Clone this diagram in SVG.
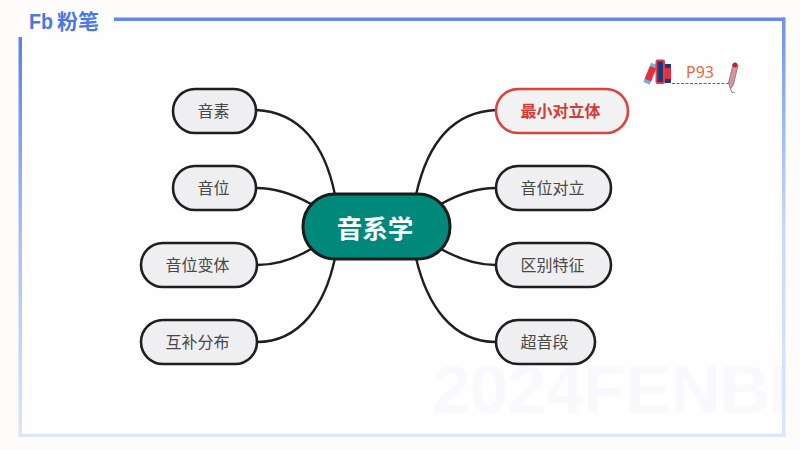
<svg xmlns="http://www.w3.org/2000/svg" width="800" height="450" viewBox="0 0 800 450">
<style>
text{font-family:"Noto Sans CJK SC","Liberation Sans",sans-serif;text-anchor:middle}
.n{fill:#efeff1;stroke:#1f1f1f;stroke-width:2.6}
.t{font-size:16px;fill:#484848;dominant-baseline:central}
.c{fill:none;stroke:#1f1f1f;stroke-width:2.4}
</style>
<defs>
<linearGradient id="l" x1="0" y1="0" x2="0" y2="1"><stop offset="0" stop-color="#5b80ea"/><stop offset="0.5" stop-color="#a9bff4"/><stop offset="1" stop-color="#dbe6fc"/></linearGradient>
<linearGradient id="r" x1="0" y1="0" x2="0" y2="1"><stop offset="0" stop-color="#6d90f0"/><stop offset="0.25" stop-color="#9db6f5"/><stop offset="0.5" stop-color="#c9d8fa"/><stop offset="1" stop-color="#dbe6fc"/></linearGradient>
</defs>
<rect width="800" height="450" fill="#fefcfb"/>
<rect x="20" y="19" width="763" height="416" fill="#fffefe"/>
<text x="432" y="413" style="font-family:'Liberation Sans',sans-serif;font-weight:700;font-size:69px;letter-spacing:-0.500px;text-anchor:start" fill="#f9f9fd">2024FENBI</text>
<rect x="785" y="0" width="15" height="450" fill="#fefcfb"/>
<g id="frame">
<rect x="114" y="17.500" width="671" height="3.500" fill="#6489ec"/>
<rect x="18.500" y="37" width="3.500" height="400" fill="url(#l)"/>
<rect x="782" y="17.500" width="3.500" height="419.500" fill="url(#r)"/>
<rect x="18.500" y="433.500" width="767" height="3.500" fill="#dde7fc"/>
</g>
<g id="logo">
<text x="41" y="29" style="font-family:'Liberation Sans',sans-serif;font-weight:700;font-size:22px" fill="#4a78e6" textLength="24" lengthAdjust="spacingAndGlyphs">Fb</text>
<text x="78" y="29" style="font-weight:700;font-size:21px" fill="#4a78e6">粉笔</text>
</g>
<g id="connectors">
<path class="c" d="M256 110C300 112 325 145 335 195"/>
<path class="c" d="M256 188C275 188 295 195 311 204"/>
<path class="c" d="M257 265C278 265 296 258 311 249"/>
<path class="c" d="M257 342C300 342 325 305 335 258"/>
<path class="c" d="M496 110C452 112 427 145 416 195"/>
<path class="c" d="M496 188C477 188 457 195 441 204"/>
<path class="c" d="M496 265C475 265 457 258 441 249"/>
<path class="c" d="M496 342C452 342 427 305 416 258"/>
</g>
<g id="center"><rect x="303" y="194" width="147" height="65" rx="32" fill="#00897a" stroke="#1c1c1c" stroke-width="3"/><text x="375" y="226" style="font-weight:700;font-size:25.500px;dominant-baseline:central" fill="#fff">音系学</text></g>
<g id="n1"><rect class="n" x="173" y="89" width="83" height="44" rx="22"/><text class="t" x="213.500" y="110">音素</text></g>
<g id="n2"><rect class="n" x="173" y="166" width="83" height="44" rx="22"/><text class="t" x="213.500" y="187">音位</text></g>
<g id="n3"><rect class="n" x="141" y="243" width="116" height="44" rx="22"/><text class="t" x="197.500" y="264">音位变体</text></g>
<g id="n4"><rect class="n" x="141" y="320" width="116" height="44" rx="22"/><text class="t" x="197.500" y="341">互补分布</text></g>
<g id="n5"><rect x="496" y="89" width="132" height="44" rx="22" fill="#f2f2f2" stroke="#d9423f" stroke-width="2.600"/><text class="t" x="560.500" y="110" style="font-weight:700;fill:#d63a36">最小对立体</text></g>
<g id="n6"><rect class="n" x="496" y="166" width="115" height="44" rx="22"/><text class="t" x="552.500" y="187">音位对立</text></g>
<g id="n7"><rect class="n" x="496" y="243" width="115" height="44" rx="22"/><text class="t" x="552.500" y="264">区别特征</text></g>
<g id="n8"><rect class="n" x="496" y="320" width="99" height="44" rx="22"/><text class="t" x="544.500" y="341">超音段</text></g>
<g id="ref">
<g transform="rotate(22 650 73.500)"><rect x="647" y="66" width="7" height="15" fill="#e2303f"/><rect x="647" y="63" width="7" height="3.500" fill="#6fb5d6"/><rect x="647" y="80.500" width="7" height="3.500" fill="#6fb5d6"/></g>
<rect x="656.500" y="60.500" width="7.500" height="22.500" rx="1" fill="#1f3a72" stroke="#e8384a" stroke-width="2"/>
<rect x="665" y="64" width="6" height="19" fill="#e2303f"/><rect x="665" y="64" width="6" height="4" fill="#1f3a72"/><rect x="665" y="79" width="6" height="4" fill="#1f3a72"/>
<text x="700" y="78" style="font-family:'Noto Sans',sans-serif;font-size:16px" fill="#e8693c">P93</text>
<path d="M672 83.500H729" fill="none" stroke="#666" stroke-width="1" stroke-dasharray="3 1.500"/>
<path d="M733 64L738 65.500L733.500 84.500L730.500 89L728.500 83Z" fill="#d9939a" stroke="#777" stroke-width="0.800"/>
<circle cx="735" cy="65" r="2.500" fill="#c8202a"/>
<path d="M730.500 89L732 92.500L735 92" fill="none" stroke="#666" stroke-width="0.800"/>
</g>
</svg>
